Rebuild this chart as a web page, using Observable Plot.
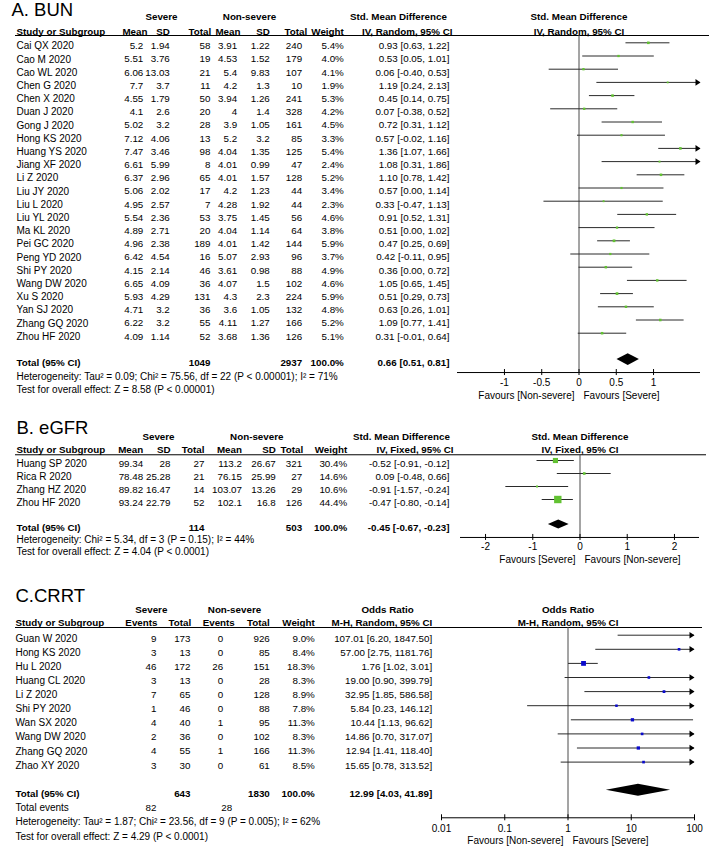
<!DOCTYPE html>
<html>
<head>
<meta charset="utf-8">
<script src="https://cdn.jsdelivr.net/npm/d3@7"></script>
<script src="https://cdn.jsdelivr.net/npm/@observablehq/plot@0.6"></script>
<style>
  body { margin: 0; background: #fff; }
  #fig { position: relative; width: 710px; height: 848px; overflow: hidden; }
  #fig svg { position: absolute; left: 0; background: transparent !important; overflow: visible; }
</style>
</head>
<body>
<div id="fig"></div>
<script>
// ---------------- Panel A: BUN ----------------
const studiesA = ["Cai QX 2020","Cao M 2020","Cao WL 2020","Chen G 2020","Chen X 2020","Duan J 2020","Gong J 2020","Hong KS 2020","Huang YS 2020","Jiang XF 2020","Li Z 2020","Liu JY 2020","Liu L 2020","Liu YL 2020","Ma KL 2020","Pei GC 2020","Peng YD 2020","Shi PY 2020","Wang DW 2020","Xu S 2020","Yan SJ 2020","Zhang GQ 2020","Zhou HF 2020"];
const sevMeanA = [5.2,5.51,6.06,7.7,4.55,4.1,5.02,7.12,7.47,6.61,6.37,5.06,4.95,5.54,4.89,4.96,6.42,4.15,6.65,5.93,4.71,6.22,4.09];
const sevSdA   = [1.94,3.76,13.03,3.7,1.79,2.6,3.2,4.06,3.46,5.99,2.96,2.02,2.57,2.36,2.71,2.38,4.54,2.14,4.09,4.29,3.2,3.2,1.14];
const sevNA    = [58,19,21,11,50,20,28,13,98,8,65,17,7,53,20,189,16,46,36,131,36,55,52];
const nsMeanA  = [3.91,4.53,5.4,4.2,3.94,4,3.9,5.2,4.04,4.01,4.01,4.2,4.28,3.75,4.04,4.01,5.07,3.61,4.07,4.3,3.6,4.11,3.68];
const nsSdA    = [1.22,1.52,9.83,1.3,1.26,1.4,1.05,3.2,1.35,0.99,1.57,1.23,1.92,1.45,1.14,1.42,2.93,0.98,1.5,2.3,1.05,1.27,1.36];
const nsNA     = [240,179,107,10,241,328,161,85,125,47,128,44,44,56,64,144,96,88,102,224,132,166,126];
const weightA  = [5.4,4.0,4.1,1.9,5.3,4.2,4.5,3.3,5.4,2.4,5.2,3.4,2.3,4.6,3.8,5.9,3.7,4.9,4.6,5.9,4.8,5.2,5.1];
const smdA     = [0.93,0.53,0.06,1.19,0.45,0.07,0.72,0.57,1.36,1.08,1.10,0.57,0.33,0.91,0.51,0.47,0.42,0.36,1.05,0.51,0.63,1.09,0.31];
const loA      = [0.63,0.05,-0.40,0.24,0.14,-0.38,0.31,-0.02,1.07,0.31,0.78,0.00,-0.47,0.52,0.00,0.25,-0.11,0.00,0.65,0.29,0.26,0.77,-0.01];
const hiA      = [1.22,1.01,0.53,2.13,0.75,0.52,1.12,1.16,1.66,1.86,1.42,1.14,1.13,1.31,1.02,0.69,0.95,0.72,1.45,0.73,1.01,1.41,0.64];
const totalA   = {sevN: 1049, nsN: 2937, weight: 100.0, est: 0.66, lo: 0.51, hi: 0.81};
const hetA     = "Heterogeneity: Tau² = 0.09; Chi² = 75.56, df = 22 (P < 0.00001); I² = 71%";
const testA    = "Test for overall effect: Z = 8.58 (P < 0.00001)";
const ticksA   = [-1,-0.5,0,0.5,1];
const tickLabA = ["-1","-0.5","0","0.5","1"];

// ---------------- Panel B: eGFR ----------------
const studiesB = ["Huang SP 2020","Rica R 2020","Zhang HZ 2020","Zhou HF 2020"];
const sevMeanB = [99.34,78.48,89.82,93.24];
const sevSdB   = [28,25.28,16.47,22.79];
const sevNB    = [27,21,14,52];
const nsMeanB  = [113.2,76.15,103.07,102.1];
const nsSdB    = [26.67,25.99,13.26,16.8];
const nsNB     = [321,27,29,126];
const weightB  = [30.4,14.6,10.6,44.4];
const smdB     = [-0.52,0.09,-0.91,-0.47];
const loB      = [-0.91,-0.48,-1.57,-0.80];
const hiB      = [-0.12,0.66,-0.24,-0.14];
const totalB   = {sevN: 114, nsN: 503, weight: 100.0, est: -0.45, lo: -0.67, hi: -0.23};
const hetB     = "Heterogeneity: Chi² = 5.34, df = 3 (P = 0.15); I² = 44%";
const testB    = "Test for overall effect: Z = 4.04 (P < 0.0001)";
const ticksB   = [-2,-1,0,1,2];
const tickLabB = ["-2","-1","0","1","2"];

// ---------------- Panel C: CRRT ----------------
const studiesC = ["Guan W 2020","Hong KS 2020","Hu L 2020","Huang CL 2020","Li Z 2020","Shi PY 2020","Wan SX 2020","Wang DW 2020","Zhang GQ 2020","Zhao XY 2020"];
const sevEvC   = [9,3,46,3,7,1,4,2,4,3];
const sevNC    = [173,13,172,13,65,46,40,36,55,30];
const nsEvC    = [0,0,26,0,0,0,1,0,1,0];
const nsNC     = [926,85,151,28,128,88,95,102,166,61];
const weightC  = [9.0,8.4,18.3,8.3,8.9,7.8,11.3,8.3,11.3,8.5];
const orC      = [107.01,57.00,1.76,19.00,32.95,5.84,10.44,14.86,12.94,15.65];
const loC      = [6.20,2.75,1.02,0.90,1.85,0.23,1.13,0.70,1.41,0.78];
const hiC      = [1847.50,1181.76,3.01,399.79,586.58,146.12,96.62,317.07,118.40,313.52];
const totalC   = {sevN: 643, nsN: 1830, weight: 100.0, est: 12.99, lo: 4.03, hi: 41.89, sevEv: 82, nsEv: 28};
const hetC     = "Heterogeneity: Tau² = 1.87; Chi² = 23.56, df = 9 (P = 0.005); I² = 62%";
const testC    = "Test for overall effect: Z = 4.29 (P < 0.0001)";
const ticksC   = [0.01,0.1,1,10,100];
const tickLabC = ["0.01","0.1","1","10","100"];

// ---------------- helpers ----------------
const FONT = "'Liberation Sans', Arial, Helvetica, sans-serif";
const GREEN = "#62c232";
const BLUE = "#0a0acc";
const TXT = 10, NUM = 9.8, HDR = 9.8;
const f2 = v => v.toFixed(2);
const ciText = (e, l, h) => `${f2(e)} [${f2(l)}, ${f2(h)}]`;
const pct = w => w.toFixed(1) + "%";

function addCol(cells, x, anchor, texts, us, bold = false, size = NUM, dy = 3.3) {
  texts.forEach((t, k) => cells.push({x, anchor, t: String(t), u: us[k], bold, size, dy}));
}
function yScale(L) {
  return {type: "linear", domain: [0, 1], range: [L.y0 - L.top, L.y0 - L.top + L.step], axis: null};
}
function place(svg, top) {
  svg.style.position = "absolute";
  svg.style.top = top + "px";
  svg.style.left = "0px";
  document.getElementById("fig").appendChild(svg);
}

function tablePlot(L, cells, rule) {
  const groups = d3.groups(cells, c => [c.anchor, c.bold, c.size, c.dy].join("|"));
  const marks = groups.map(([, cs]) => Plot.text(cs, {
    x: "x", y: "u", text: "t",
    textAnchor: cs[0].anchor, fontWeight: cs[0].bold ? "bold" : "normal",
    fontSize: cs[0].size, dy: cs[0].dy, lineAnchor: "middle", fill: "#000"
  }));
  marks.push(Plot.ruleY([rule], {y: d => d.u, x1: d => d.x1, x2: d => d.x2, stroke: "#000", strokeWidth: 1}));
  return Plot.plot({
    width: 710, height: L.height, margin: 0,
    style: {fontFamily: FONT, background: "transparent", overflow: "visible"},
    x: {type: "linear", domain: [0, 710], range: [0, 710], axis: null},
    y: yScale(L),
    marks
  });
}

const rightTri = {draw(ctx) { ctx.moveTo(0, 0); ctx.lineTo(-5, -3.3); ctx.lineTo(-5, 3.3); ctx.closePath(); }};

function forestPlot(L, F) {
  const [xmin, xmax] = F.domain;
  const rows = F.est.map((e, i) => ({i, est: e, lo: F.lo[i], hi: F.hi[i], w: F.weight[i]}));
  const h = L.diamondHalf / L.step;
  const diamond = [
    {x: F.total.lo, y1: L.total, y2: L.total},
    {x: F.total.est, y1: L.total - h, y2: L.total + h},
    {x: F.total.hi, y1: L.total, y2: L.total}
  ];
  const t = 3 / L.step;
  return Plot.plot({
    width: 710, height: L.height, margin: 0,
    style: {fontFamily: FONT, background: "transparent", overflow: "visible"},
    x: {type: F.type, domain: F.domain, range: F.range, axis: null},
    y: yScale(L),
    r: {type: "identity"},
    marks: [
      Plot.ruleX([F.zero], {x: d => d, y1: () => L.rule, y2: () => L.axis, stroke: "#4a4a4a", strokeWidth: 1}),
      Plot.ruleY(rows, {y: "i", x1: d => Math.max(d.lo, xmin), x2: d => Math.min(d.hi, xmax), stroke: "#2a2a2a", strokeWidth: 1}),
      Plot.dot(rows.filter(d => d.hi > xmax), {x: () => xmax, y: "i", symbol: rightTri, r: 3, fill: "#000", stroke: "none"}),
      Plot.dot(rows.filter(d => d.est >= xmin && d.est <= xmax), {
        x: "est", y: "i", symbol: "square", r: d => F.side(d.w) / Math.sqrt(Math.PI), fill: F.color, stroke: "none"
      }),
      Plot.areaY(diamond, {x: "x", y1: "y1", y2: "y2", fill: "#000", curve: "linear"}),
      Plot.ruleY([L.axis], {y: d => d, x1: () => xmin, x2: () => xmax, stroke: "#000", strokeWidth: 1}),
      Plot.ruleX(F.ticks, {x: d => d, y1: () => L.axis - t, y2: () => L.axis + t, stroke: "#000", strokeWidth: 1}),
      Plot.text(F.ticks, {x: d => d, y: () => L.tickLbl, text: (d, i) => F.tickLabels[i], fontSize: 10, fill: "#000"}),
      Plot.text([F.favours[0]], {x: () => F.zero, y: () => L.fav, text: d => d, textAnchor: "end", dx: -4.5, fontSize: TXT, fill: "#000"}),
      Plot.text([F.favours[1]], {x: () => F.zero, y: () => L.fav, text: d => d, textAnchor: "start", dx: 4.5, fontSize: TXT, fill: "#000"}),
      Plot.text([F.head1], {x: () => F.zero, y: () => L.group, text: d => d, dy: 3.3, fontSize: HDR, fontWeight: "bold", fill: "#000"}),
      Plot.text([F.head2], {x: () => F.zero, y: () => L.sub, text: d => d, dy: 3.3, fontSize: HDR, fontWeight: "bold", fill: "#000"})
    ]
  });
}

// ---------------- layouts (row units) ----------------
const LA = {top: 0, height: 405, y0: 42.3, step: 13.2, title: -2.5, group: -2.19, sub: -1.11, rule: -0.553,
            total: 24, het: 25.05, test: 26.04, axis: 24.98, tickLbl: 25.79, fav: 26.73, diamondHalf: 5.8};
const LB = {top: 405, height: 165, y0: 460, step: 13, title: -2.52, group: -2.1, sub: -1.08, rule: -0.44,
            total: 4.92, het: 5.82, test: 6.8, axis: 5.92, tickLbl: 6.67, fav: 7.64, diamondHalf: 4.5};
const LC = {top: 570, height: 278, y0: 634.7, step: 14.1, title: -2.8, group: -2.02, sub: -1.10, rule: -0.546,
            total: 11, events: 12, het: 13.03, test: 14.04, axis: 12.95, tickLbl: 13.73, fav: 14.61, diamondHalf: 6};

// ---------------- Panel A build ----------------
{
  const L = LA, c = [], idx = studiesA.map((_, i) => i);
  c.push({x: 11, anchor: "start", t: "A. BUN", u: L.title, bold: false, size: 18.5, dy: 0});
  addCol(c, 161, "middle", ["Severe"], [L.group], true, HDR);
  addCol(c, 249, "middle", ["Non-severe"], [L.group], true, HDR);
  addCol(c, 398, "middle", ["Std. Mean Difference"], [L.group], true, HDR);
  const subs = [[16,"start","Study or Subgroup"],[147,"end","Mean"],[169.3,"end","SD"],[210.7,"end","Total"],
                [240,"end","Mean"],[269.3,"end","SD"],[306.7,"end","Total"],[343.3,"end","Weight"],[452,"end","IV, Random, 95% CI"]];
  subs.forEach(([x, a, t]) => addCol(c, x, a, [t], [L.sub], true, HDR));
  addCol(c, 16, "start", studiesA, idx, false, TXT);
  addCol(c, 142.8, "end", sevMeanA, idx);
  addCol(c, 169.3, "end", sevSdA, idx);
  addCol(c, 210, "end", sevNA, idx);
  addCol(c, 236.7, "end", nsMeanA, idx);
  addCol(c, 269.3, "end", nsSdA, idx);
  addCol(c, 301.7, "end", nsNA, idx);
  addCol(c, 343.3, "end", weightA.map(pct), idx);
  addCol(c, 449, "end", smdA.map((e, i) => ciText(e, loA[i], hiA[i])), idx);
  addCol(c, 16, "start", ["Total (95% CI)"], [L.total], true, HDR);
  addCol(c, 210, "end", [totalA.sevN], [L.total], true);
  addCol(c, 301.7, "end", [totalA.nsN], [L.total], true);
  addCol(c, 343.3, "end", [pct(totalA.weight)], [L.total], true);
  addCol(c, 449, "end", [ciText(totalA.est, totalA.lo, totalA.hi)], [L.total], true);
  addCol(c, 16, "start", [hetA], [L.het], false, TXT);
  addCol(c, 16, "start", [testA], [L.test], false, TXT);
  place(tablePlot(L, c, {u: L.rule, x1: 15, x2: 709}), L.top);
  place(forestPlot(L, {
    type: "linear", domain: [-1.63, 1.63], range: [457, 700], zero: 0,
    est: smdA, lo: loA, hi: hiA, weight: weightA, total: totalA,
    side: w => 1.4 + 0.22 * w, color: GREEN,
    ticks: ticksA, tickLabels: tickLabA,
    favours: ["Favours [Non-severe]", "Favours [Severe]"],
    head1: "Std. Mean Difference", head2: "IV, Random, 95% CI"
  }), L.top);
}

// ---------------- Panel B build ----------------
{
  const L = LB, c = [], idx = studiesB.map((_, i) => i);
  c.push({x: 16, anchor: "start", t: "B. eGFR", u: L.title, bold: false, size: 18.5, dy: 0});
  addCol(c, 158, "middle", ["Severe"], [L.group], true, HDR);
  addCol(c, 256.3, "middle", ["Non-severe"], [L.group], true, HDR);
  addCol(c, 401, "middle", ["Std. Mean Difference"], [L.group], true, HDR);
  const subs = [[16,"start","Study or Subgroup"],[142.7,"end","Mean"],[170,"end","SD"],[204,"end","Total"],
                [241.5,"end","Mean"],[275.3,"end","SD"],[302.7,"end","Total"],[346.7,"end","Weight"],[453,"end","IV, Fixed, 95% CI"]];
  subs.forEach(([x, a, t]) => addCol(c, x, a, [t], [L.sub], true, HDR));
  addCol(c, 16, "start", studiesB, idx, false, TXT);
  addCol(c, 142.7, "end", sevMeanB, idx);
  addCol(c, 170, "end", sevSdB, idx);
  addCol(c, 204, "end", sevNB, idx);
  addCol(c, 241.5, "end", nsMeanB, idx);
  addCol(c, 275.3, "end", nsSdB, idx);
  addCol(c, 301.7, "end", nsNB, idx);
  addCol(c, 346.7, "end", weightB.map(pct), idx);
  addCol(c, 449, "end", smdB.map((e, i) => ciText(e, loB[i], hiB[i])), idx);
  addCol(c, 16, "start", ["Total (95% CI)"], [L.total], true, HDR);
  addCol(c, 204, "end", [totalB.sevN], [L.total], true);
  addCol(c, 301.7, "end", [totalB.nsN], [L.total], true);
  addCol(c, 346.7, "end", [pct(totalB.weight)], [L.total], true);
  addCol(c, 449, "end", [ciText(totalB.est, totalB.lo, totalB.hi)], [L.total], true);
  addCol(c, 16, "start", [hetB], [L.het], false, TXT);
  addCol(c, 16, "start", [testB], [L.test], false, TXT);
  place(tablePlot(L, c, {u: L.rule, x1: 15, x2: 706}), L.top);
  place(forestPlot(L, {
    type: "linear", domain: [-2.53, 2.53], range: [460, 699], zero: 0,
    est: smdB, lo: loB, hi: hiB, weight: weightB, total: totalB,
    side: w => 0.3 + 0.16 * w, color: GREEN,
    ticks: ticksB, tickLabels: tickLabB,
    favours: ["Favours [Severe]", "Favours [Non-severe]"],
    head1: "Std. Mean Difference", head2: "IV, Fixed, 95% CI"
  }), L.top);
}

// ---------------- Panel C build ----------------
{
  const L = LC, c = [], idx = studiesC.map((_, i) => i);
  c.push({x: 15, anchor: "start", t: "C.CRRT", u: L.title, bold: false, size: 18.5, dy: 0});
  addCol(c, 150.8, "middle", ["Severe"], [L.group], true, HDR);
  addCol(c, 234, "middle", ["Non-severe"], [L.group], true, HDR);
  addCol(c, 387, "middle", ["Odds Ratio"], [L.group], true, HDR);
  const subs = [[15,"start","Study or Subgroup"],[157,"end","Events"],[190.7,"end","Total"],[234.3,"end","Events"],
                [269.3,"end","Total"],[314.3,"end","Weight"],[431.7,"end","M-H, Random, 95% CI"]];
  subs.forEach(([x, a, t]) => addCol(c, x, a, [t], [L.sub], true, HDR));
  addCol(c, 15, "start", studiesC, idx, false, TXT);
  addCol(c, 156, "end", sevEvC, idx);
  addCol(c, 190, "end", sevNC, idx);
  addCol(c, 222.7, "end", nsEvC, idx);
  addCol(c, 269.3, "end", nsNC, idx);
  addCol(c, 314.3, "end", weightC.map(pct), idx);
  addCol(c, 431.7, "end", orC.map((e, i) => ciText(e, loC[i], hiC[i])), idx);
  addCol(c, 15, "start", ["Total (95% CI)"], [L.total], true, HDR);
  addCol(c, 190, "end", [totalC.sevN], [L.total], true);
  addCol(c, 269.3, "end", [totalC.nsN], [L.total], true);
  addCol(c, 314.3, "end", [pct(totalC.weight)], [L.total], true);
  addCol(c, 431.7, "end", [ciText(totalC.est, totalC.lo, totalC.hi)], [L.total], true);
  addCol(c, 15, "start", ["Total events"], [L.events], false, TXT);
  addCol(c, 156, "end", [totalC.sevEv], [L.events]);
  addCol(c, 231.7, "end", [totalC.nsEv], [L.events]);
  addCol(c, 15, "start", [hetC], [L.het], false, TXT);
  addCol(c, 15, "start", [testC], [L.test], false, TXT);
  place(tablePlot(L, c, {u: L.rule, x1: 15, x2: 702}), L.top);
  place(forestPlot(L, {
    type: "log", domain: [0.01, 100], range: [441, 694], zero: 1,
    est: orC, lo: loC, hi: hiC, weight: weightC, total: totalC,
    side: w => 0.8 + 0.22 * w, color: BLUE,
    ticks: ticksC, tickLabels: tickLabC,
    favours: ["Favours [Non-severe]", "Favours [Severe]"],
    head1: "Odds Ratio", head2: "M-H, Random, 95% CI"
  }), L.top);
}
</script>
</body>
</html>
